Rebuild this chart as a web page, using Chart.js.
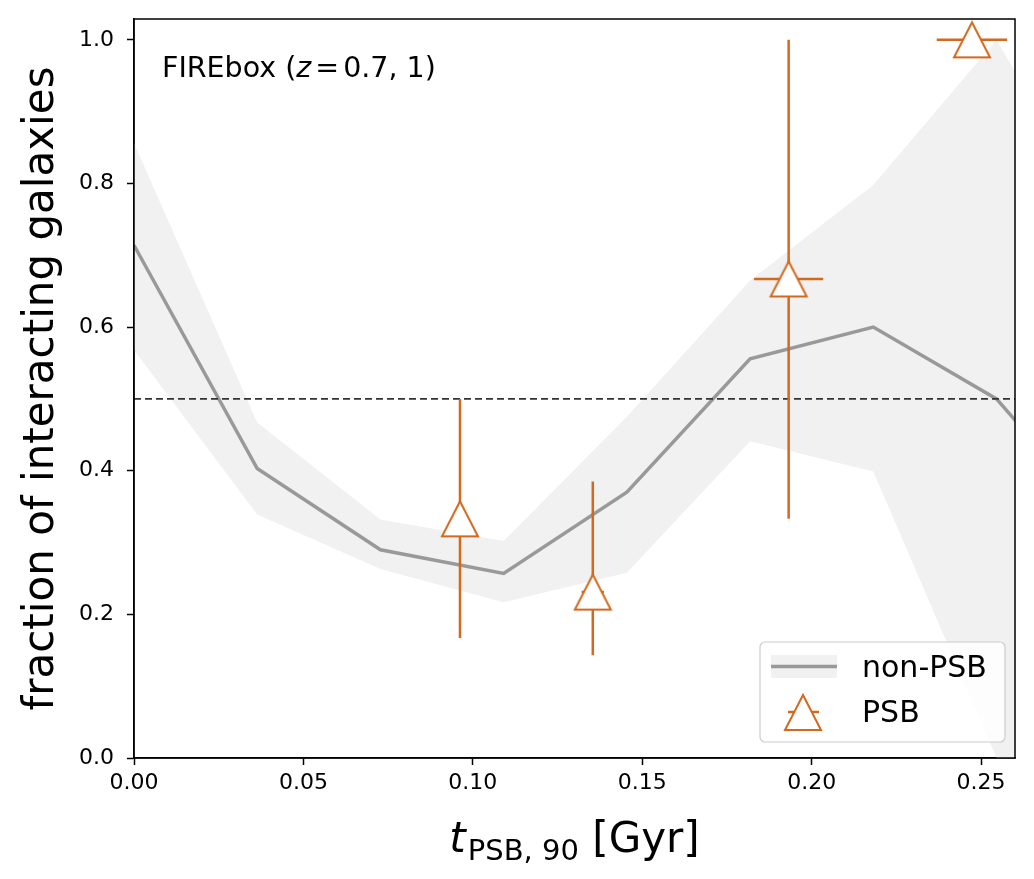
<!DOCTYPE html>
<html><head><meta charset="utf-8">
<script src="https://cdn.jsdelivr.net/npm/chart.js@4.4.0/dist/chart.umd.min.js"></script>
<style>html,body{margin:0;padding:0;background:#fff;}#wrap{width:1034px;height:879px;}</style>
</head><body><div id="wrap"><canvas id="c" width="1034" height="879"></canvas></div>
<script>
// ---- data ----
const binX = [0, 0.03636, 0.07273, 0.10909, 0.14545, 0.18182, 0.21818, 0.25455, 0.29091];
const nonPsbFrac  = [0.714, 0.403, 0.290, 0.257, 0.370, 0.556, 0.600, 0.500, 0.303];
const nonPsbUpper = [0.856, 0.467, 0.332, 0.302, 0.475, 0.665, 0.798, 1.000, 0.705];
const nonPsbLower = [0.568, 0.339, 0.263, 0.217, 0.258, 0.441, 0.399, 0.000, 0.000];
const psbX      = [0.0962, 0.1354, 0.1932, 0.2473];
const psbFrac   = [0.333, 0.231, 0.667, 1.000];
const psbYLow   = [0.167, 0.143, 0.333, 1.000];
const psbYHigh  = [0.500, 0.385, 1.000, 1.000];
const psbXErr   = [0.000, 0.0033, 0.0102, 0.0104];
const refLevel  = 0.5;
const xTicks = [0, 0.05, 0.10, 0.15, 0.20, 0.25];
const yTicks = [0, 0.2, 0.4, 0.6, 0.8, 1.0];
const xRange = [0, 0.26];
const yRange = [0, 1.029];

const ORANGE = '#d2691e';
const GRAYLINE = '#999999';
const BAND = '#f1f1f1';
const FONT = '"DejaVu Sans", "Liberation Sans", sans-serif';

function makeTri(w, h, lw) {
  const pad = 5;
  const c = document.createElement('canvas');
  c.width = Math.round(w + 2 * pad); c.height = Math.round(h + 2 * pad);
  const g = c.getContext('2d');
  g.beginPath();
  g.moveTo(c.width / 2, pad);
  g.lineTo(pad, c.height - pad);
  g.lineTo(c.width - pad, c.height - pad);
  g.closePath();
  g.fillStyle = '#fff'; g.fill();
  g.lineWidth = lw; g.strokeStyle = ORANGE; g.lineJoin = 'miter'; g.stroke();
  return c;
}
const triImg = makeTri(36, 35, 2);

const pts = (xs, ys) => xs.map((x, i) => ({x: x, y: ys[i]}));

const PSB_INDEX = 3;

const errorBars = {
  id: 'errorBars',
  beforeDatasetDraw(chart, args) {
    if (args.index !== PSB_INDEX) return;
    const ctx = chart.ctx, xs = chart.scales.x, ys = chart.scales.y;
    ctx.save();
    ctx.strokeStyle = ORANGE; ctx.lineWidth = 2.5; ctx.lineCap = 'butt';
    psbX.forEach((x, i) => {
      const px = xs.getPixelForValue(x), py = ys.getPixelForValue(psbFrac[i]);
      ctx.beginPath();
      ctx.moveTo(px, ys.getPixelForValue(psbYLow[i]));
      ctx.lineTo(px, ys.getPixelForValue(psbYHigh[i]));
      if (psbXErr[i] > 0) {
        ctx.moveTo(xs.getPixelForValue(x - psbXErr[i]), py);
        ctx.lineTo(xs.getPixelForValue(x + psbXErr[i]), py);
      }
      ctx.stroke();
    });
    ctx.restore();
  }
};

const decorations = {
  id: 'decorations',
  afterDraw(chart) {
    const ctx = chart.ctx, a = chart.chartArea;
    ctx.save();
    // frame
    ctx.strokeStyle = '#000'; ctx.lineWidth = 1.5;
    ctx.strokeRect(a.left, a.top, a.right - a.left, a.bottom - a.top);
    ctx.fillStyle = '#000';
    // annotation
    let x = a.left + 28; const by = 77;
    ctx.textBaseline = 'alphabetic'; ctx.textAlign = 'left';
    ctx.font = '28.5px ' + FONT; ctx.fillText('FIREbox (', x, by); x += ctx.measureText('FIREbox (').width;
    ctx.font = 'italic 28.5px ' + FONT; ctx.fillText('z', x, by); x += ctx.measureText('z').width + 4;
    ctx.font = '28.5px ' + FONT; ctx.fillText('=', x, by); x += ctx.measureText('=').width + 4;
    ctx.fillText('0.7, 1)', x, by);
    // y title
    ctx.save();
    ctx.translate(53, (a.top + a.bottom) / 2);
    ctx.rotate(-Math.PI / 2);
    ctx.textAlign = 'center';
    ctx.font = '42px ' + FONT;
    ctx.fillText('fraction of interacting galaxies', 0, 0);
    ctx.restore();
    // x title
    const f1 = 'italic 42px ' + FONT, f2 = '29px ' + FONT, f3 = '42px ' + FONT;
    ctx.font = f1; const w1 = ctx.measureText('t').width;
    ctx.font = f2; const w2 = ctx.measureText('PSB, 90').width;
    ctx.font = f3; const w3 = ctx.measureText(' [Gyr]').width;
    let sx = (a.left + a.right) / 2 - (w1 + 2 + w2 + w3) / 2; const base = 852;
    ctx.font = f1; ctx.fillText('t', sx, base); sx += w1 + 2;
    ctx.font = f2; ctx.fillText('PSB, 90', sx, base + 8); sx += w2;
    ctx.font = f3; ctx.fillText(' [Gyr]', sx, base);
    // legend
    const lx = 760, ly = 642, lw = 245, lh = 100;
    ctx.beginPath();
    if (ctx.roundRect) ctx.roundRect(lx, ly, lw, lh, 5); else ctx.rect(lx, ly, lw, lh);
    ctx.fillStyle = 'rgba(255,255,255,0.85)'; ctx.fill();
    ctx.strokeStyle = '#cccccc'; ctx.lineWidth = 1.2; ctx.stroke();
    ctx.fillStyle = BAND; ctx.fillRect(771, 655, 66, 23);
    ctx.strokeStyle = GRAYLINE; ctx.lineWidth = 3.5;
    ctx.beginPath(); ctx.moveTo(771, 666.5); ctx.lineTo(837, 666.5); ctx.stroke();
    ctx.strokeStyle = ORANGE; ctx.lineWidth = 2.5;
    ctx.beginPath(); ctx.moveTo(788, 712); ctx.lineTo(819, 712); ctx.stroke();
    ctx.drawImage(triImg, 803 - triImg.width / 2, 712.5 - triImg.height / 2);
    ctx.fillStyle = '#000'; ctx.font = '30px ' + FONT; ctx.textAlign = 'left';
    ctx.fillText('non-PSB', 862, 677);
    ctx.fillText('PSB', 862, 722);
    ctx.restore();
  }
};

const tickFont = {family: FONT, size: 22};

new Chart(document.getElementById('c'), {
  type: 'scatter',
  data: {
    datasets: [
      { label: 'upper', data: pts(binX, nonPsbUpper), showLine: true, borderWidth: 0, pointRadius: 0, fill: false, order: 6, borderColor: 'rgba(0,0,0,0)' },
      { label: 'lower', data: pts(binX, nonPsbLower), showLine: true, borderWidth: 0, pointRadius: 0, fill: 0, backgroundColor: BAND, order: 5, borderColor: 'rgba(0,0,0,0)' },
      { label: 'non-PSB', data: pts(binX, nonPsbFrac), showLine: true, borderColor: GRAYLINE, borderWidth: 3.5, pointRadius: 0, fill: false, order: 4 },
      { label: 'PSB', data: pts(psbX, psbFrac), pointStyle: triImg, pointRadius: 18, order: 1, clip: false },
      { label: 'ref', data: [{x: xRange[0], y: refLevel}, {x: xRange[1], y: refLevel}], showLine: true, borderColor: '#333333', borderWidth: 1.6, borderDash: [7, 4], pointRadius: 0, fill: false, order: 3 }
    ]
  },
  options: {
    responsive: false, animation: false, devicePixelRatio: 1,
    layout: {padding: {left: 0, top: 15, right: 16, bottom: 0}},
    plugins: {legend: {display: false}, tooltip: {enabled: false}},
    scales: {
      x: {
        type: 'linear', min: xRange[0], max: xRange[1],
        afterBuildTicks: s => { s.ticks = xTicks.map(v => ({value: v})); },
        afterFit: s => { s.height = 121; s.paddingLeft = 0; s.paddingRight = 0; },
        ticks: {font: tickFont, color: '#000', padding: 5, callback: v => v.toFixed(2), maxRotation: 0, autoSkip: false},
        grid: {drawOnChartArea: false, drawTicks: true, tickLength: 7, tickColor: '#000', tickWidth: 1.5},
        border: {display: true, color: '#000', width: 1.5}
      },
      y: {
        type: 'linear', min: yRange[0], max: yRange[1],
        afterBuildTicks: s => { s.ticks = yTicks.map(v => ({value: v})); },
        afterFit: s => { s.width = 134; s.paddingTop = 0; s.paddingBottom = 0; },
        ticks: {font: tickFont, color: '#000', padding: 13, callback: v => v.toFixed(1), autoSkip: false},
        grid: {drawOnChartArea: false, drawTicks: true, tickLength: 7, tickColor: '#000', tickWidth: 1.5},
        border: {display: true, color: '#000', width: 1.5}
      }
    }
  },
  plugins: [errorBars, decorations]
});
</script>
</body></html>
